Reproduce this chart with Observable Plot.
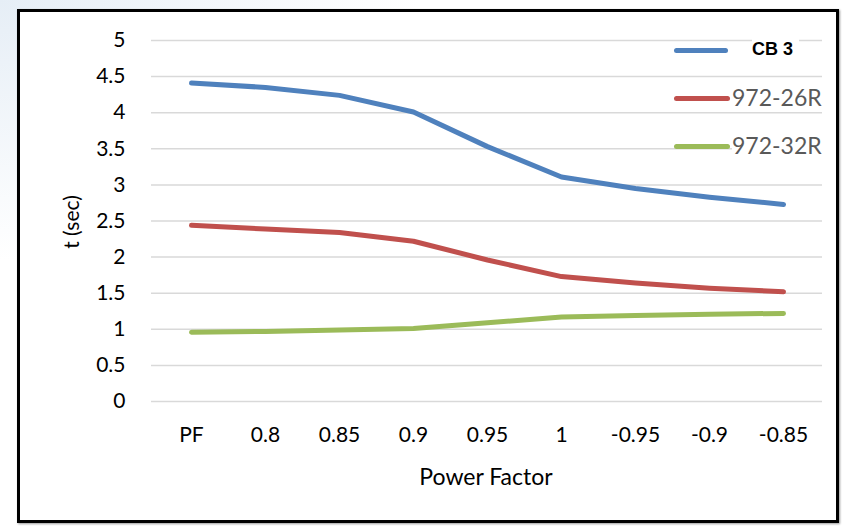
<!DOCTYPE html>
<html>
<head>
<meta charset="utf-8">
<script src="https://cdn.jsdelivr.net/npm/d3@7"></script>
<script src="https://cdn.jsdelivr.net/npm/@observablehq/plot@0.6"></script>
<style>
  html, body { margin: 0; padding: 0; width: 846px; height: 527px; overflow: hidden;
    background: radial-gradient(ellipse at 0% 0%, #e6eef6 0%, #ffffff 35%); }
  #wrap { position: relative; width: 846px; height: 527px; }
  #frame { position: absolute; left: 17px; top: 9px; width: 816px; height: 508px;
    border: 3px solid #000; background: #fff; box-shadow: 1px 1px 2px rgba(0,0,0,0.4); }
  #chart { position: absolute; left: 0; top: 0; }
  .leg { position: absolute; font-family: Lato, "Open Sans", sans-serif; }
  .leg .sw { position: absolute; height: 5px; border-radius: 3px; }
  .leg .lb { position: absolute; background: #fff; white-space: nowrap; }
  .ttl { position: absolute; font-family: Lato, "Open Sans", sans-serif; font-size: 21px; color: #000; white-space: nowrap; }
</style>
</head>
<body>
<div id="wrap">
  <div id="frame"></div>
  <div id="chart"></div>
  <div id="legend"></div>
  <div class="ttl" id="xt" style="left:486px;top:476px;font-size:23px;transform:translate(-50%,-50%)"></div>
  <div class="ttl" id="yt" style="left:70px;top:222px;transform:translate(-50%,-50%) rotate(-90deg)"></div>
</div>
<script>
const categories = ["PF", "0.8", "0.85", "0.9", "0.95", "1", "-0.95", "-0.9", "-0.85"];
const seriesNames = ["CB 3", "972-26R", "972-32R"];
const seriesColors = ["#4f81bd", "#c0504d", "#9bbb59"];
const cb3 = [4.41, 4.35, 4.24, 4.01, 3.53, 3.11, 2.95, 2.83, 2.73];
const r26 = [2.44, 2.39, 2.34, 2.22, 1.96, 1.73, 1.64, 1.57, 1.52];
const r32 = [0.96, 0.97, 0.99, 1.01, 1.09, 1.17, 1.19, 1.21, 1.22];
const yTicks = [0, 0.5, 1, 1.5, 2, 2.5, 3, 3.5, 4, 4.5, 5];
const xTitle = "Power Factor";
const yTitle = "t (sec)";

document.getElementById("xt").textContent = xTitle;
document.getElementById("yt").textContent = yTitle;

const seriesValues = [cb3, r26, r32];
const data = [];
seriesNames.forEach((s, i) => categories.forEach((c, j) => data.push({series: s, cat: c, value: seriesValues[i][j]})));

const font = "Lato, 'Open Sans', sans-serif";
const chart = Plot.plot({
  width: 846,
  height: 527,
  marginLeft: 151,
  marginRight: 24,
  marginTop: 40,
  marginBottom: 126,
  style: { fontFamily: font, fontSize: "20px", color: "#000", background: "transparent", overflow: "visible" },
  x: { type: "point", domain: categories, padding: 0.5, label: null },
  y: { domain: [0, 5], label: null },
  color: { domain: seriesNames, range: seriesColors },
  marks: [
    Plot.gridY(yTicks, { stroke: "#d9d9d9", strokeOpacity: 1, strokeWidth: 1.5 }),
    Plot.axisY(yTicks, { tickSize: 0, tickPadding: 26, label: null, fontSize: 21, tickFormat: d => String(d) }),
    Plot.axisX({ tickSize: 0, tickPadding: 26, label: null, fontSize: 21 }),
    Plot.line(data, { x: "cat", y: "value", z: "series", stroke: "series", strokeWidth: 5, strokeLinecap: "round", strokeLinejoin: "round" })
  ]
});
document.getElementById("chart").appendChild(chart);

// legend
const legend = document.getElementById("legend");
const legTop = [50, 98, 146];
seriesNames.forEach((s, i) => {
  const sw = document.createElement("div");
  sw.className = "leg";
  sw.innerHTML = `<div class="sw" style="left:674px;top:${legTop[i]-2}px;width:${i===0?54:56}px;background:${seriesColors[i]}"></div>`;
  legend.appendChild(sw);
  const lb = document.createElement("div");
  lb.className = "leg";
  if (i === 0) {
    lb.innerHTML = `<div class="lb" style="left:752px;top:${legTop[i]-11}px;font-family:'Liberation Sans',Arial,sans-serif;font-weight:bold;font-size:18px;color:#000;padding:0 6px 0 0">${s}</div>`;
  } else {
    lb.innerHTML = `<div class="lb" style="left:732px;top:${legTop[i]-14}px;font-size:23px;color:#595959;line-height:26px">${s}</div>`;
  }
  legend.appendChild(lb);
});
</script>
</body>
</html>
